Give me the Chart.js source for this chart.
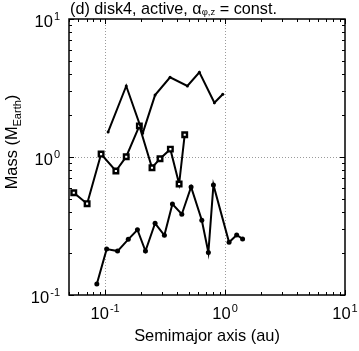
<!DOCTYPE html>
<html>
<head>
<meta charset="utf-8">
<script src="https://cdn.jsdelivr.net/npm/chart.js@4"></script>
<style>
  body { margin: 0; background: #fff; }
  canvas { display: block; }
</style>
</head>
<body>
<canvas id="massChart" width="359" height="351"></canvas>
<script>
// semimajor axis (au) and mass (M_Earth)
const topA = [0.106, 0.150, 0.206, 0.261, 0.348, 0.485, 0.611, 0.815, 0.957];
const topM = [1.52, 3.27, 1.49, 2.81, 3.78, 3.27, 4.11, 2.47, 2.85];

const midA = [0.0548, 0.0708, 0.0926, 0.123, 0.150, 0.193, 0.246, 0.287, 0.350, 0.414, 0.461];
const midM = [0.551, 0.459, 1.05, 0.792, 1.005, 1.68, 0.836, 0.972, 1.14, 0.637, 1.45];

const lowA = [0.0853, 0.103, 0.127, 0.156, 0.186, 0.217, 0.261, 0.312, 0.364, 0.436, 0.521, 0.640, 0.726, 0.800, 1.08, 1.25, 1.40];
const lowM = [0.120, 0.215, 0.208, 0.253, 0.297, 0.208, 0.331, 0.271, 0.456, 0.385, 0.606, 0.348, 0.203, 0.627, 0.241, 0.272, 0.255];

// axis ticks
const xMajor = [0.1, 1, 10];
const xMajorExp = ['-1', '0', '1'];
const yMajor = [0.1, 1, 10];
const yMajorExp = ['-1', '0', '1'];
const xGrid = [0.1, 1];
const yGrid = [1];

const FONT = '"Liberation Sans", Arial, Helvetica, sans-serif';

function pts(xs, ys) {
  return xs.map((x, i) => ({ x: x, y: ys[i] }));
}

function minorTicks(min, max) {
  const out = [];
  for (let d = Math.floor(Math.log10(min)); d <= Math.ceil(Math.log10(max)); d++) {
    for (let k = 1; k < 10; k++) {
      const v = k * Math.pow(10, d);
      if (v >= min * 0.999 && v <= max * 1.001) out.push(v);
    }
  }
  return out;
}

// "10" with a superscript exponent
function drawPow(ctx, exp, x, y, align) {
  ctx.font = '16.5px ' + FONT;
  const w1 = ctx.measureText('10').width;
  ctx.font = '11px ' + FONT;
  const w2 = ctx.measureText(exp).width;
  const total = w1 + w2 + 1;
  let left = x;
  if (align === 'center') left = x - total / 2;
  if (align === 'right') left = x - total;
  ctx.textAlign = 'left';
  ctx.textBaseline = 'alphabetic';
  ctx.font = '16.5px ' + FONT;
  ctx.fillText('10', left, y);
  ctx.font = '11px ' + FONT;
  ctx.fillText(exp, left + w1 + 1, y - 7);
}

const framePlugin = {
  id: 'frame',
  beforeDatasetsDraw(chart) {
    const { ctx, chartArea: a, scales } = chart;
    ctx.save();
    ctx.strokeStyle = '#9a9a9a';
    ctx.lineWidth = 1;
    ctx.setLineDash([1, 2]);
    xGrid.forEach(v => {
      const px = Math.round(scales.x.getPixelForValue(v)) + 0.5;
      ctx.beginPath(); ctx.moveTo(px, a.top); ctx.lineTo(px, a.bottom); ctx.stroke();
    });
    yGrid.forEach(v => {
      const py = Math.round(scales.y.getPixelForValue(v)) + 0.5;
      ctx.beginPath(); ctx.moveTo(a.left, py); ctx.lineTo(a.right, py); ctx.stroke();
    });
    ctx.restore();
  },
  afterDatasetsDraw(chart) {
    const { ctx, chartArea: a, scales } = chart;
    ctx.save();
    ctx.strokeStyle = '#000';
    ctx.fillStyle = '#000';

    // ticks, inward on all four sides
    ctx.lineWidth = 1;
    const xs = scales.x, ys = scales.y;
    minorTicks(xs.min, xs.max).forEach(v => {
      const px = Math.round(xs.getPixelForValue(v)) + 0.5;
      const len = xMajor.includes(v) ? 5 : 3;
      ctx.beginPath();
      ctx.moveTo(px, a.bottom); ctx.lineTo(px, a.bottom - len);
      ctx.moveTo(px, a.top); ctx.lineTo(px, a.top + len);
      ctx.stroke();
    });
    minorTicks(ys.min, ys.max).forEach(v => {
      const py = Math.round(ys.getPixelForValue(v)) + 0.5;
      const len = yMajor.includes(v) ? 5 : 3;
      ctx.beginPath();
      ctx.moveTo(a.left, py); ctx.lineTo(a.left + len, py);
      ctx.moveTo(a.right, py); ctx.lineTo(a.right - len, py);
      ctx.stroke();
    });

    // box
    ctx.lineWidth = 1.5;
    ctx.strokeRect(a.left, a.top, a.right - a.left, a.bottom - a.top);

    // tick labels
    xMajor.forEach((v, i) => drawPow(ctx, xMajorExp[i], xs.getPixelForValue(v), a.bottom + 24, 'center'));
    yMajor.forEach((v, i) => drawPow(ctx, yMajorExp[i], a.left - 9, ys.getPixelForValue(v) + 8, 'right'));

    // x title
    ctx.font = '16.4px ' + FONT;
    ctx.textAlign = 'center';
    ctx.fillText('Semimajor axis (au)', (a.left + a.right) / 2, 341);

    // y title with subscript
    ctx.save();
    ctx.translate(17, 142);
    ctx.rotate(-Math.PI / 2);
    ctx.textAlign = 'left';
    ctx.font = '16.4px ' + FONT;
    const p1 = 'Mass (M', p3 = ')';
    const w1 = ctx.measureText(p1).width, w3 = ctx.measureText(p3).width;
    ctx.font = '11px ' + FONT;
    const w2 = ctx.measureText('Earth').width;
    let x0 = -(w1 + w2 + w3) / 2;
    ctx.font = '16.4px ' + FONT;
    ctx.fillText(p1, x0, 0);
    ctx.font = '11px ' + FONT;
    ctx.fillText('Earth', x0 + w1, 4);
    ctx.font = '16.4px ' + FONT;
    ctx.fillText(p3, x0 + w1 + w2, 0);
    ctx.restore();

    // title
    ctx.textAlign = 'left';
    let tx = 70;
    const ty = 14;
    ctx.font = '16.2px ' + FONT;
    const t1 = '(d) disk4, active, \u03b1';
    ctx.fillText(t1, tx, ty);
    tx += ctx.measureText(t1).width;
    ctx.font = '9.5px ' + FONT;
    ctx.fillText('\u03c6,z', tx, ty + 1);
    tx += ctx.measureText('\u03c6,z').width;
    ctx.font = '16.2px ' + FONT;
    ctx.fillText(' = const.', tx, ty);

    ctx.restore();
  }
};

new Chart(document.getElementById('massChart'), {
  type: 'line',
  data: {
    datasets: [
      {
        data: pts(topA, topM),
        borderColor: '#000', borderWidth: 2,
        pointRadius: 1.5, pointBackgroundColor: '#000', pointBorderWidth: 0,
        tension: 0
      },
      {
        data: pts(midA, midM),
        borderColor: '#000', borderWidth: 2,
        pointStyle: 'rect', pointRadius: 3.2,
        pointBackgroundColor: '#fff', pointBorderColor: '#000', pointBorderWidth: 2.4,
        tension: 0
      },
      {
        data: pts(lowA, lowM),
        borderColor: '#000', borderWidth: 2,
        pointRadius: 2.5, pointBackgroundColor: '#000', pointBorderWidth: 0,
        tension: 0
      }
    ]
  },
  options: {
    responsive: false,
    animation: false,
    layout: { padding: { left: 69, top: 19, right: 14, bottom: 56 } },
    scales: {
      x: { type: 'logarithmic', min: 0.05, max: 10, display: false },
      y: { type: 'logarithmic', min: 0.1, max: 10, display: false }
    },
    plugins: {
      legend: { display: false },
      tooltip: { enabled: false }
    }
  },
  plugins: [framePlugin]
});
</script>
</body>
</html>
